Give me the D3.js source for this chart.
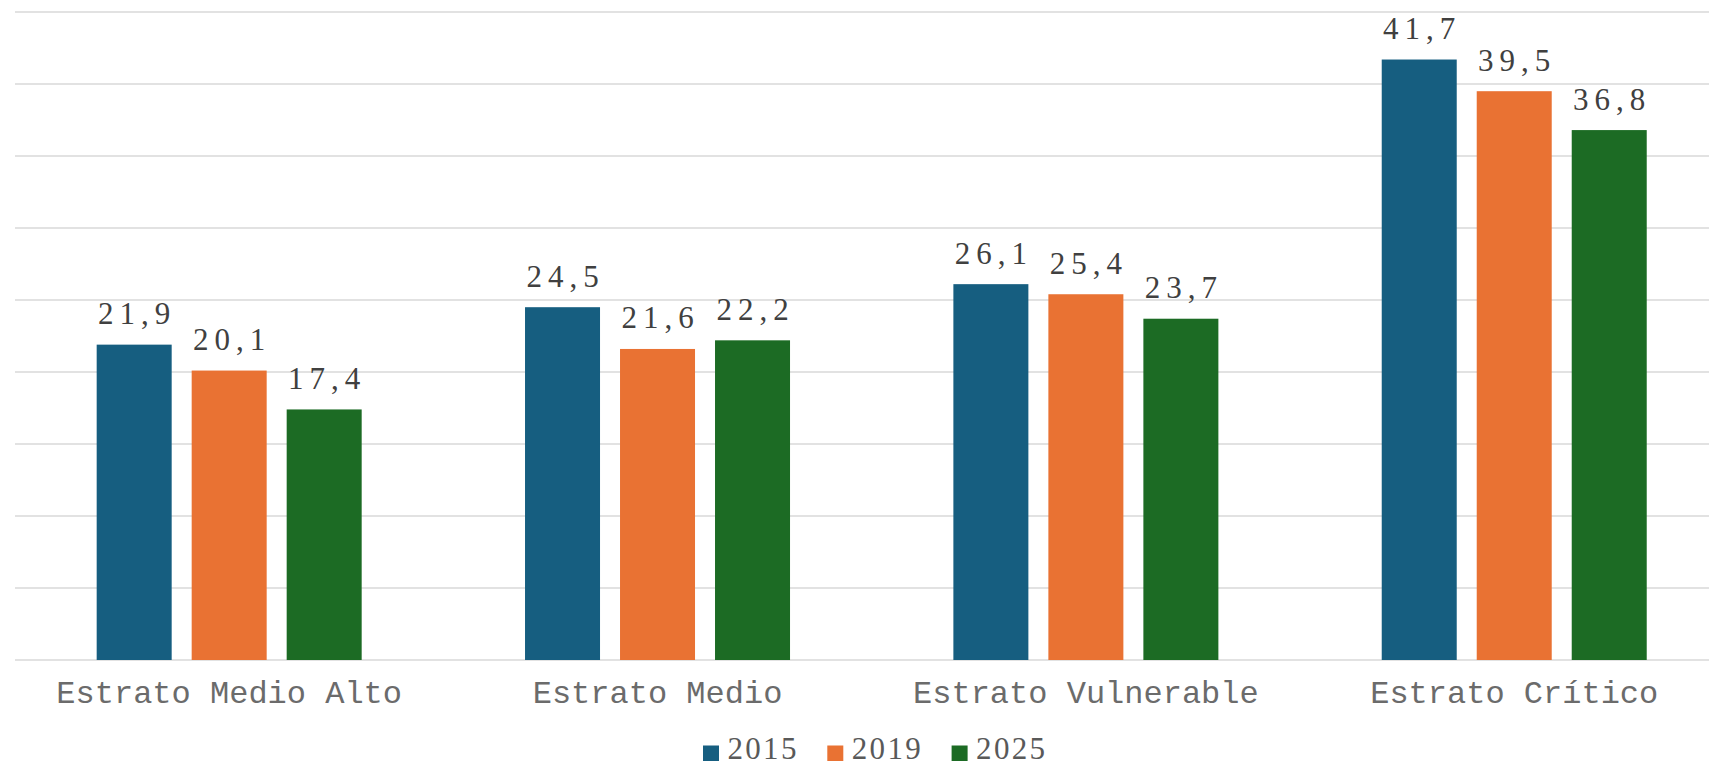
<!DOCTYPE html>
<html><head><meta charset="utf-8">
<script src="https://cdn.jsdelivr.net/npm/d3@7"></script>
<style>html,body{margin:0;padding:0;background:#fff;overflow:hidden}</style>
</head><body>
<svg id="chart" width="1709" height="766"></svg>
<script>
const categories = ["Estrato Medio Alto", "Estrato Medio", "Estrato Vulnerable", "Estrato Crítico"];
const years = ["2015", "2019", "2025"];
const values2015 = [21.9, 24.5, 26.1, 41.7];
const values2019 = [20.1, 21.6, 25.4, 39.5];
const values2025 = [17.4, 22.2, 23.7, 36.8];
const yTicks = [0, 5, 10, 15, 20, 25, 30, 35, 40, 45];
const colors = ["#165E80", "#E97233", "#1C6B24"];

const series = [values2015, values2019, values2025];
const svg = d3.select("#chart");
const W = 1709;

const y = d3.scaleLinear().domain([0, 45]).range([660, 12]);
const x0 = d3.scaleBand().domain(categories).range([15, 1728.4]);
const x1 = d3.scaleBand().domain(years).range([0, 265]).paddingInner(20/95).paddingOuter(0);
const groupOffset = x0.bandwidth()/2 - 132.5;

// gridlines
svg.append("g").selectAll("line").data(yTicks).join("line")
  .attr("x1", 15).attr("x2", W)
  .attr("y1", d => y(d)).attr("y2", d => y(d))
  .attr("stroke", "#d9d9d9").attr("stroke-width", 1.6);

// bars
const fmt = v => d3.format(".1f")(v).replace(".", ",");
years.forEach((yr, si) => {
  const g = svg.append("g");
  g.selectAll("rect").data(categories).join("rect")
    .attr("x", (c) => x0(c) + groupOffset + x1(yr))
    .attr("y", (c, i) => y(series[si][i]))
    .attr("width", x1.bandwidth())
    .attr("height", (c, i) => y(0) - y(series[si][i]))
    .attr("fill", colors[si]);
  g.selectAll("text").data(categories).join("text")
    .attr("x", (c) => x0(c) + groupOffset + x1(yr) + x1.bandwidth()/2 + 3)
    .attr("y", (c, i) => y(series[si][i]) - 20.5)
    .attr("text-anchor", "middle")
    .attr("font-family", "'Liberation Serif', 'Times New Roman', serif")
    .attr("font-size", 31)
    .attr("letter-spacing", 6)
    .attr("fill", "#404040")
    .text((c, i) => fmt(series[si][i]));
});

// category labels
svg.append("g").selectAll("text").data(categories).join("text")
  .attr("x", c => x0(c) + x0.bandwidth()/2)
  .attr("y", 703)
  .attr("text-anchor", "middle")
  .attr("font-family", "'Liberation Mono', 'Courier New', monospace")
  .attr("font-size", 32)
  .attr("fill", "#6b6b6b")
  .text(c => c);

// legend
const legendX = d3.scaleOrdinal().domain(years).range([703, 827.3, 951.6]);
const lg = svg.append("g").selectAll("g").data(years).join("g")
  .attr("transform", d => `translate(${legendX(d)},0)`);
lg.append("rect").attr("x", 0).attr("y", 745.5).attr("width", 16).attr("height", 15.5)
  .attr("fill", (d, i) => colors[i]);
lg.append("text").attr("x", 24.5).attr("y", 759)
  .attr("font-family", "'Liberation Serif', 'Times New Roman', serif")
  .attr("font-size", 31)
  .attr("letter-spacing", 2.3)
  .attr("fill", "#595959")
  .text(d => d);
</script>
</body></html>
